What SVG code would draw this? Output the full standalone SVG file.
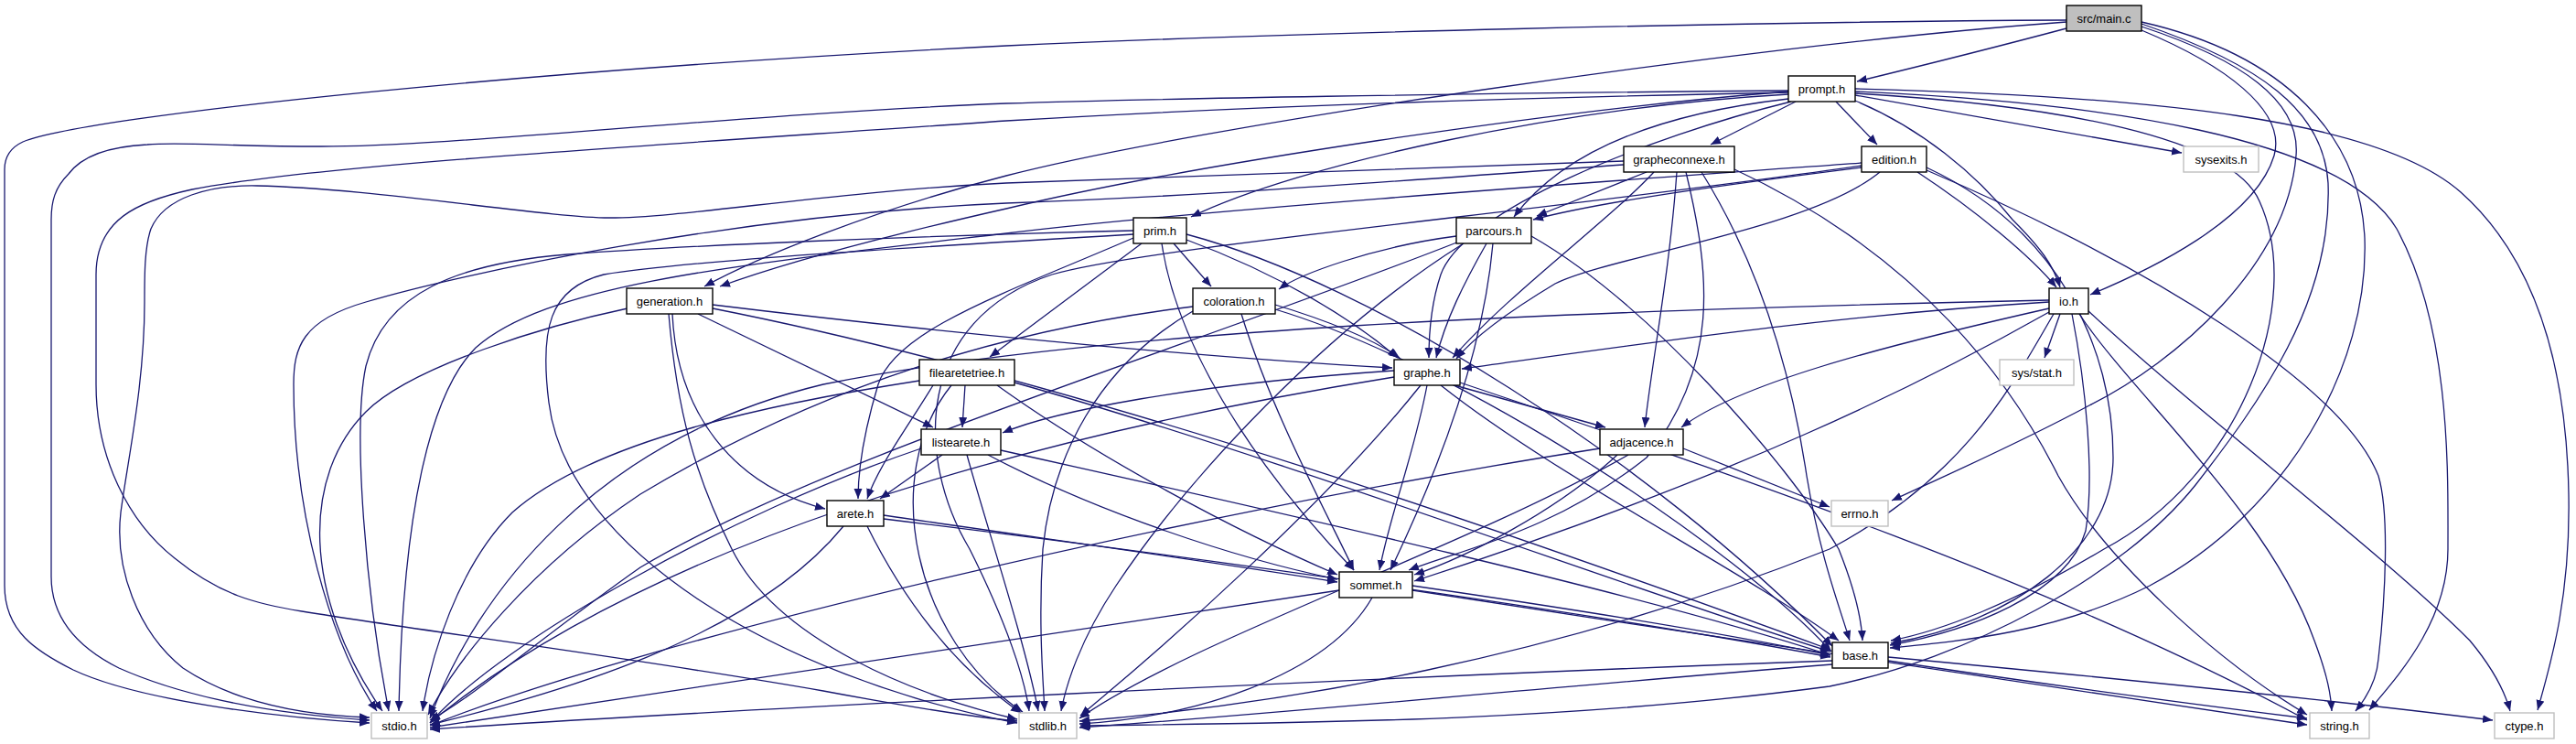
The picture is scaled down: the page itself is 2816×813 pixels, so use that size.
<svg xmlns="http://www.w3.org/2000/svg" width="2816" height="813" viewBox="0 0 2816 813">
<style>
.e{fill:none;stroke:#191970;stroke-width:1.3;marker-end:url(#ah)}
.n rect{fill:#fff;stroke:#000;stroke-width:1.4}
.s rect{fill:#fff;stroke:#bfbfbf;stroke-width:1.4}
.m rect{fill:#bfbfbf;stroke:#000;stroke-width:1.4}
text{font-family:"Liberation Sans",Arial,sans-serif;font-size:13px;text-anchor:middle;fill:#000}
</style>
<defs>
<marker id="ah" markerUnits="userSpaceOnUse" markerWidth="12" markerHeight="10" refX="11" refY="4.5" orient="auto">
<polygon points="0,0 11,4.5 0,9" fill="#191970"/>
</marker>
</defs>
<rect width="2816" height="813" fill="#fff"/>
<g id="edges">
<path class="e" d="M2259,31 C2180,52 2100,72 2030,89"/>
<path class="e" d="M2259,22 C1900,24 1400,36 1100,50 C600,75 100,125 25,155 C10,162 5,172 5,185 L5,640 C5,690 40,712 80,732 C150,765 300,784 404,790"/>
<path class="e" d="M2259,24 C1900,50 1300,140 1100,192 C960,228 830,280 770,313"/>
<path class="e" d="M2341,33 C2430,70 2500,120 2486,170 C2465,240 2350,295 2285,322"/>
<path class="e" d="M2341,29 C2450,65 2515,110 2510,170 C2500,290 2380,395 2284,443 C2200,488 2130,518 2068,547"/>
<path class="e" d="M2341,26 C2470,70 2540,120 2545,200 C2550,330 2470,440 2400,530 C2320,630 2150,720 2000,750 C1700,790 1400,790 1181,793"/>
<path class="e" d="M2341,24 C2500,60 2580,150 2585,260 C2590,400 2500,560 2350,640 C2250,690 2150,700 2066,708"/>
<path class="e" d="M1963,111 L1870,158"/>
<path class="e" d="M2007,111 L2052,158"/>
<path class="e" d="M2028,104 L2385,167"/>
<path class="e" d="M1955,103 C1700,118 1420,180 1302,237"/>
<path class="e" d="M1955,108 C1850,120 1720,150 1655,237"/>
<path class="e" d="M1958,111 C1800,150 1600,230 1575,300 C1565,330 1562,360 1562,391"/>
<path class="e" d="M1955,100 C1700,120 1300,180 1100,228 C950,262 850,290 787,313"/>
<path class="e" d="M1955,99 C1600,102 1250,108 1100,113 C800,125 500,160 351,160 C250,160 200,155 161,158 C120,160 90,170 75,190 C60,205 56,220 56,240 L56,630 C56,680 90,710 130,730 C220,770 330,782 404,787"/>
<path class="e" d="M1955,101 C1600,108 1300,120 1100,132 C700,160 350,180 210,207 C150,220 105,240 105,300 L105,420 C105,500 140,570 191,610 C240,650 280,660 330,668 C500,695 700,720 900,755 C980,770 1050,782 1112,788"/>
<path class="e" d="M2028,110 C2100,140 2160,190 2200,240 C2230,270 2245,290 2252,314"/>
<path class="e" d="M2028,102 C2250,115 2440,150 2470,220 C2520,330 2450,520 2300,600 C2200,660 2120,690 2067,700"/>
<path class="e" d="M2028,100 C2300,112 2560,150 2620,250 C2680,360 2676,520 2676,600 C2676,680 2620,740 2590,776"/>
<path class="e" d="M2028,97 C2350,105 2600,130 2690,210 C2780,290 2806,420 2808,540 C2810,650 2790,720 2774,776"/>
<path class="e" d="M1800,188 L1680,236"/>
<path class="e" d="M1808,188 C1760,240 1650,320 1588,391"/>
<path class="e" d="M1833,188 C1825,300 1805,400 1798,467"/>
<path class="e" d="M1843,188 C1870,300 1880,400 1800,500 C1700,580 1600,600 1540,623"/>
<path class="e" d="M1860,188 C1930,300 1960,420 1975,520 C1990,610 2010,660 2022,700"/>
<path class="e" d="M1896,185 C2100,280 2200,420 2250,520 C2300,610 2420,720 2522,781"/>
<path class="e" d="M1775,176 C1500,185 1300,195 1100,200 C900,210 750,238 666,238 C600,238 400,205 281,203 C230,202 180,215 165,250 C158,270 158,300 158,330 C158,420 140,500 132,560 C125,620 150,690 200,730 C260,770 340,782 404,784"/>
<path class="e" d="M1775,180 C1500,200 1300,215 1100,222 C800,235 500,300 400,330 C330,350 321,380 321,420 C321,560 360,700 412,777"/>
<path class="e" d="M2035,183 C1900,200 1750,220 1676,240"/>
<path class="e" d="M2096,188 C2160,230 2220,280 2248,314"/>
<path class="e" d="M2055,188 C1980,250 1760,280 1700,310 C1650,340 1610,370 1592,392"/>
<path class="e" d="M2106,183 C2250,250 2310,380 2310,500 C2310,600 2200,680 2067,703"/>
<path class="e" d="M2106,186 C2350,290 2560,420 2600,520 C2612,560 2608,650 2600,720 C2598,745 2585,765 2575,777"/>
<path class="e" d="M2035,178 C1800,195 1300,230 1100,255 C800,290 600,310 520,380 C470,430 440,560 436,777"/>
<path class="e" d="M2035,181 C1700,230 1250,270 1150,300 C1000,350 1000,500 1060,600 C1100,680 1120,740 1125,777"/>
<path class="e" d="M1592,258 C1500,270 1420,300 1398,316"/>
<path class="e" d="M1625,266 C1600,310 1580,350 1570,391"/>
<path class="e" d="M1632,266 C1620,400 1560,540 1520,623"/>
<path class="e" d="M1595,264 C1300,380 900,500 700,620 C600,690 520,760 470,787"/>
<path class="e" d="M1600,266 C1450,360 1300,520 1220,640 C1180,700 1165,750 1160,777"/>
<path class="e" d="M1674,258 C1800,330 1950,500 2010,600 C2030,650 2035,680 2036,700"/>
<path class="e" d="M1248,266 L1082,390"/>
<path class="e" d="M1283,266 L1324,313"/>
<path class="e" d="M1297,262 C1400,300 1480,350 1528,391"/>
<path class="e" d="M1239,260 C1100,320 980,360 960,420 C945,470 938,510 938,545"/>
<path class="e" d="M1270,266 C1290,400 1400,540 1480,623"/>
<path class="e" d="M1297,256 C1500,310 1800,500 2003,706"/>
<path class="e" d="M1239,252 C1000,258 750,268 620,278 C500,288 420,320 400,400 C385,470 400,650 425,777"/>
<path class="e" d="M1239,256 C1000,270 750,285 660,300 C600,315 590,360 600,440 C620,600 850,740 1112,790"/>
<path class="e" d="M779,333 C1000,360 1300,390 1522,402"/>
<path class="e" d="M763,343 L1020,467"/>
<path class="e" d="M735,343 C740,450 800,530 902,556"/>
<path class="e" d="M779,337 C1200,420 1700,600 2001,710"/>
<path class="e" d="M686,337 C600,355 450,400 400,450 C330,520 330,650 418,777"/>
<path class="e" d="M731,343 C740,450 760,520 800,600 C850,700 1000,760 1112,786"/>
<path class="e" d="M1394,333 C1450,350 1500,370 1530,391"/>
<path class="e" d="M1357,343 C1390,450 1450,560 1480,623"/>
<path class="e" d="M1394,338 C1600,400 1900,600 2002,712"/>
<path class="e" d="M1304,335 C1100,360 900,420 700,540 C580,620 500,720 468,781"/>
<path class="e" d="M1304,340 C1200,400 1150,500 1140,600 C1135,680 1140,740 1142,777"/>
<path class="e" d="M2240,330 C2000,345 1800,375 1598,403"/>
<path class="e" d="M2252,343 L2235,391"/>
<path class="e" d="M2240,337 C2050,380 1900,420 1838,467"/>
<path class="e" d="M2240,341 C2100,420 1900,520 1546,635"/>
<path class="e" d="M2240,328 C1700,340 1200,360 900,420 C650,480 520,650 470,785"/>
<path class="e" d="M2245,343 C2200,420 2150,520 2000,600 C1700,720 1400,770 1180,788"/>
<path class="e" d="M2265,343 C2280,420 2290,520 2280,580 C2260,650 2150,690 2066,705"/>
<path class="e" d="M2273,343 C2330,430 2480,560 2530,700 C2545,740 2548,760 2549,777"/>
<path class="e" d="M2281,338 C2400,450 2600,600 2700,700 C2725,730 2738,755 2744,777"/>
<path class="e" d="M1055,421 L1052,467"/>
<path class="e" d="M1020,421 C990,470 960,510 948,545"/>
<path class="e" d="M1090,421 C1200,500 1350,580 1462,628"/>
<path class="e" d="M1109,418 C1400,500 1800,650 2001,712"/>
<path class="e" d="M1005,416 C850,440 650,480 560,560 C500,620 470,720 462,777"/>
<path class="e" d="M1040,421 C960,520 1000,700 1118,778"/>
<path class="e" d="M1524,405 C1300,420 1150,450 1096,473"/>
<path class="e" d="M1590,421 L1755,467"/>
<path class="e" d="M1560,421 C1545,500 1520,560 1508,623"/>
<path class="e" d="M1575,421 C1700,520 1900,620 2010,700"/>
<path class="e" d="M1596,418 C1900,520 2250,640 2522,787"/>
<path class="e" d="M1524,412 C1100,480 700,600 470,790"/>
<path class="e" d="M1553,421 C1450,550 1280,700 1181,782"/>
<path class="e" d="M1030,497 L962,545"/>
<path class="e" d="M1080,497 C1200,560 1350,610 1462,633"/>
<path class="e" d="M1094,492 C1400,560 1800,650 2001,716"/>
<path class="e" d="M1007,490 C800,560 550,700 470,790"/>
<path class="e" d="M1057,497 C1080,580 1120,700 1135,777"/>
<path class="e" d="M1768,497 C1700,560 1600,610 1546,628"/>
<path class="e" d="M1840,490 L2000,554"/>
<path class="e" d="M1749,490 C1300,560 700,700 470,793"/>
<path class="e" d="M1780,497 C1600,600 1300,700 1180,785"/>
<path class="e" d="M966,563 C1150,590 1300,610 1462,636"/>
<path class="e" d="M966,567 C1400,620 1800,680 2001,718"/>
<path class="e" d="M922,575 C820,700 600,760 470,792"/>
<path class="e" d="M948,575 C1000,680 1060,740 1116,779"/>
<path class="e" d="M1544,640 C1750,670 1900,695 2001,716"/>
<path class="e" d="M1544,645 C1900,700 2300,760 2522,792"/>
<path class="e" d="M1464,645 C1100,700 700,760 470,795"/>
<path class="e" d="M1500,653 C1450,740 1300,785 1180,791"/>
<path class="e" d="M2003,722 C1500,740 800,775 470,797"/>
<path class="e" d="M2003,726 C1700,750 1400,780 1180,795"/>
<path class="e" d="M2064,722 C2250,750 2400,770 2522,785"/>
<path class="e" d="M2064,718 C2300,740 2550,765 2725,787"/>
</g>
<g id="node-main" class="m"><rect x="2259" y="6" width="82" height="28"/><text x="2300" y="24.5">src/main.c</text></g>
<g id="node-prompt" class="n"><rect x="1955" y="83" width="73" height="28"/><text x="1991.5" y="101.5">prompt.h</text></g>
<g id="node-grapheconnexe" class="n"><rect x="1775" y="160" width="121" height="28"/><text x="1835.5" y="178.5">grapheconnexe.h</text></g>
<g id="node-edition" class="n"><rect x="2035" y="160" width="71" height="28"/><text x="2070.5" y="178.5">edition.h</text></g>
<g id="node-sysexits" class="s"><rect x="2387" y="160" width="82" height="28"/><text x="2428" y="178.5">sysexits.h</text></g>
<g id="node-prim" class="n"><rect x="1239" y="238" width="58" height="28"/><text x="1268" y="256.5">prim.h</text></g>
<g id="node-parcours" class="n"><rect x="1592" y="238" width="82" height="28"/><text x="1633" y="256.5">parcours.h</text></g>
<g id="node-generation" class="n"><rect x="685" y="315" width="94" height="28"/><text x="732" y="333.5">generation.h</text></g>
<g id="node-coloration" class="n"><rect x="1304" y="315" width="90" height="28"/><text x="1349" y="333.5">coloration.h</text></g>
<g id="node-io" class="n"><rect x="2240" y="315" width="43" height="28"/><text x="2261.5" y="333.5">io.h</text></g>
<g id="node-filearetetriee" class="n"><rect x="1005" y="393" width="104" height="28"/><text x="1057" y="411.5">filearetetriee.h</text></g>
<g id="node-graphe" class="n"><rect x="1524" y="393" width="72" height="28"/><text x="1560" y="411.5">graphe.h</text></g>
<g id="node-sysstat" class="s"><rect x="2186" y="393" width="81" height="28"/><text x="2226.5" y="411.5">sys/stat.h</text></g>
<g id="node-listearete" class="n"><rect x="1007" y="469" width="87" height="28"/><text x="1050.5" y="487.5">listearete.h</text></g>
<g id="node-adjacence" class="n"><rect x="1749" y="469" width="91" height="28"/><text x="1794.5" y="487.5">adjacence.h</text></g>
<g id="node-arete" class="n"><rect x="904" y="547" width="62" height="28"/><text x="935" y="565.5">arete.h</text></g>
<g id="node-errno" class="s"><rect x="2002" y="547" width="62" height="28"/><text x="2033" y="565.5">errno.h</text></g>
<g id="node-sommet" class="n"><rect x="1464" y="625" width="80" height="28"/><text x="1504" y="643.5">sommet.h</text></g>
<g id="node-base" class="n"><rect x="2003" y="702" width="61" height="28"/><text x="2033.5" y="720.5">base.h</text></g>
<g id="node-stdio" class="s"><rect x="406" y="779" width="61" height="28"/><text x="436.5" y="797.5">stdio.h</text></g>
<g id="node-stdlib" class="s"><rect x="1114" y="779" width="63" height="28"/><text x="1145.5" y="797.5">stdlib.h</text></g>
<g id="node-string" class="s"><rect x="2525" y="779" width="65" height="28"/><text x="2557.5" y="797.5">string.h</text></g>
<g id="node-ctype" class="s"><rect x="2727" y="779" width="65" height="28"/><text x="2759.5" y="797.5">ctype.h</text></g>
</svg>
